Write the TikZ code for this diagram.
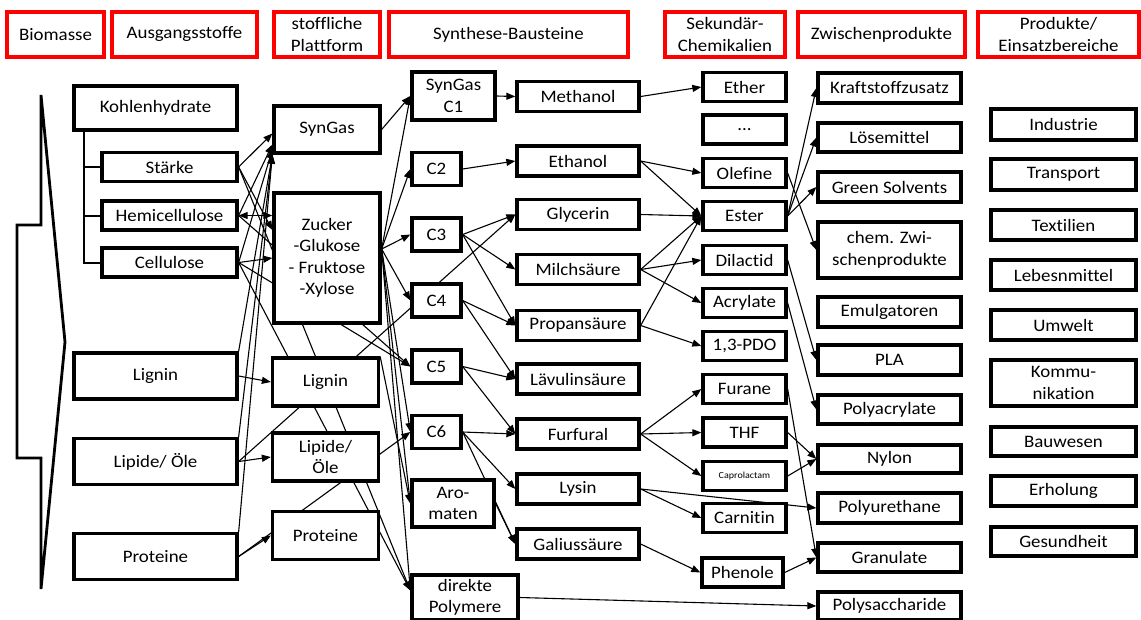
\documentclass[tikz,border=0pt]{standalone}
\usepackage{fontspec}
\setmainfont{Carlito}[FakeStretch=1.08, Ligatures=NoCommon]
\usetikzlibrary{arrows.meta}
\pgfdeclarelayer{background}
\pgfsetlayers{background,main}

\begin{document}
\begin{tikzpicture}[x=1pt, y=-1pt,
		font=\fontsize{17.5}{21.5}\selectfont,
		box/.style={draw, line width=3.3pt, fill=white, align=center, inner sep=0pt},
		headbox/.style={draw=red, line width=3.3pt, fill=white, align=center, inner sep=0pt, minimum height=45pt},
		link/.style={line width=1.1pt, -{Triangle[length=9pt,width=7pt]}},
		twolink/.style={line width=1.1pt, {Triangle[length=9pt,width=7pt]}-{Triangle[length=9pt,width=7pt]}},
		tree/.style={line width=2pt}]
		\useasboundingbox (0,0) rectangle (1141,619);
		
		% Draw the column headers
		\foreach \nm/\xx/\ww/\txt in {hbio/55.5/97/Biomasse, haus/184.5/145/Ausgangsstoffe, hpla/327/106/{stoffliche\\Plattform}, hsyn/508.5/239/Synthese-Bausteine, hsek/725/120/{Sekundär-\\Chemikalien}, hzwi/881.5/167/Zwischenprodukte, hpro/1058.5/161/{Produkte/\\Einsatzbereiche}} {
			\node[headbox, minimum width=\ww*1pt] (\nm) at (\xx,34.5) {\txt};
		}
		
		% Draw the biomass arrow
		\draw[line width=2.8pt] (41,95) -- (65,342) -- (41,589) -- (41,458) -- (17,458) -- (17,225) -- (41,225) -- cycle;
		
		% Ausgangsstoffe
		\node[box, minimum width=163pt, minimum height=44pt] (kohle) at (155.5,108) {Kohlenhydrate};
		\foreach \nm/\yy/\txt in {staerke/167/Stärke, hemi/215.5/Hemicellulose, cellu/262.5/Cellulose} {
			\node[box, minimum width=135pt, minimum height=29pt] (\nm) at (169.5,\yy) {\txt};
		}
		\foreach \nm/\yy/\txt in {lignA/376/Lignin, lipA/461.5/{Lipide/ Öle}, protA/556.5/Proteine} {
			\node[box, minimum width=163pt, minimum height=46pt] (\nm) at (155.5,\yy) {\txt};
		}
		
		% stoffliche Plattform
		\node[box, minimum width=106pt, minimum height=47pt] (syngas) at (327,129.5) {SynGas};
		\node[box, minimum width=106pt, minimum height=130pt] (zucker) at (327,258) {Zucker\\-Glukose\\- Fruktose\\-Xylose};
		\foreach \nm/\yy/\txt in {lignB/382/Lignin, lipB/457/{Lipide/\\Öle}, protB/535.5/Proteine} {
			\node[box, minimum width=106pt, minimum height=48pt] (\nm) at (325.5,\yy) {\txt};
		}
		
		% Synthese-Bausteine
		\node[box, minimum width=83pt, minimum height=48pt] (cone) at (453.5,96) {SynGas\\C1};
		\foreach \nm/\yy/\txt in {ctwo/169/C2, cthree/234.5/C3, cfour/300.5/C4, cfive/366.5/C5, csix/432/C6} {
			\node[box, minimum width=49pt, minimum height=33pt] (\nm) at (436.5,\yy) {\txt};
		}
		\node[box, minimum width=82pt, minimum height=47pt] (arom) at (453,503.5) {Aro-\\maten};
		\node[box, minimum width=106pt, minimum height=45pt] (dpoly) at (465,597.5) {direkte\\Polymere};
		\foreach \nm/\yy/\txt in {meth/96.5/Methanol, ethan/161/Ethanol, glyc/214.5/Glycerin, milch/269.5/Milchsäure, propan/325.5/Propansäure, laevu/379/Lävulinsäure, furf/434/Furfural, lysin/489/Lysin, galli/544/Galiussäure} {
			\node[box, minimum width=122pt, minimum height=30pt] (\nm) at (578,\yy) {\txt};
		}
		
		% Sekundaer-Chemikalien
		\node[box, minimum width=83pt, minimum height=29pt] (dots) at (744.5,129.5) {...};
		\foreach \nm/\yy/\txt in {ether/87/Ether, olef/173/Olefine, ester/216/Ester, dilac/260/Dilactid, acryl/303/Acrylate, pdo/346/{1,3-PDO}, furan/389/Furane, thf/432.5/THF, capro/476/{\fontsize{9.3}{11}\selectfont Caprolactam}, carni/518/Carnitin} {
			\node[box, minimum width=83pt, minimum height=29pt] (\nm) at (744.5,\yy) {\txt};
		}
		\node[box, minimum width=81pt, minimum height=29pt] (phen) at (742.5,572.5) {Phenole};
		
		% Zwischenprodukte
		\foreach \nm/\yy/\hh/\txt in {kraft/88/30/Kraftstoffzusatz, loese/137.5/29/Lösemittel, green/187/30/Green Solvents, chemz/250/56/{chem. Zwi-\\schenprodukte}, emulg/312/30/Emulgatoren, pla/360/30/PLA, polyac/409.5/29/Polyacrylate, nylon/459/28/Nylon, polyur/508/30/Polyurethane, granu/557.5/29/Granulate, polysa/606/28/Polysaccharide} {
			\node[box, minimum width=143pt, minimum height=\hh*1pt] (\nm) at (889.5,\yy) {\txt};
		}
		
		% Produkte/Einsatzbereiche
		\foreach \nm/\yy/\hh/\txt in {ind/124.5/31/Industrie, trans/174.5/31/Transport, textil/225/30/Textilien, lebe/275/30/Lebesnmittel, umw/325/30/Umwelt, komm/383/46/{Kommu-\\nikation}, bau/441.5/29/Bauwesen, erh/491/30/Erholung, ges/541.5/29/Gesundheit} {
			\node[box, minimum width=145pt, minimum height=\hh*1pt] (\nm) at (1063.5,\yy) {\txt};
		}
		
		% Connector end points
		\coordinate (tr) at (84,130);
		\coordinate (synA) at ([yshift=-4pt]syngas.west);
		\coordinate (synB) at ([yshift=-15pt]syngas.west);
		\coordinate (synC) at ([yshift=-20pt]syngas.west);
		\coordinate (zucA) at ([yshift=28pt]zucker.west);
		\coordinate (zout) at ([yshift=9pt]zucker.east);
		\coordinate (dpin) at ([yshift=7pt]dpoly.west);
		
		\begin{pgfonlayer}{background}
			% Kohlenhydrate tree
			\draw[tree] (tr) |- (cellu.west);
			\draw[tree] (staerke.west) -- (staerke.west -| tr);
			\draw[tree] (hemi.west) -- (hemi.west -| tr);
			
			% Ausgangsstoffe to Plattform
			\foreach \a/\b in {staerke.east/synA, hemi.east/synB, cellu.east/synC, lignA.north east/syngas.south west, lipA.north east/syngas.south west, protA.north east/syngas.south west, staerke.east/zucA, cellu.east/zucker.west, hemi.east/cfive.west, cellu.east/cfive.west, staerke.east/dpin, cellu.east/dpin, lignA.east/lignB.west, lipA.east/lipB.west, lipA.east/glyc.west, protA.east/protB.west, protA.east/csix.west} {
				\draw[link] (\a) -- (\b);
			}
			\draw[twolink] (hemi.east) -- (hemi.east -| zucker.west);
			
			% Plattform to Synthese-Bausteine
			\foreach \a/\b in {syngas.east/cone.west, zout/cone.west, zout/ctwo.west, zout/cthree.west, zout/cfour.west, zout/csix.west, zout/arom.west, zout/dpin, lignB.north east/arom.west} {
				\draw[link] (\a) -- (\b);
			}
			
			% Synthese-Bausteine
			\foreach \a/\b in {cone.east/meth.west, ctwo.east/ethan.west, cthree.east/glyc.west, cthree.east/milch.west, cthree.east/propan.west, cfour.east/propan.west, cfour.east/laevu.west, cfive.east/laevu.west, cfive.east/furf.west, csix.east/furf.west, csix.east/lysin.west, csix.east/galli.west, arom.east/galli.west, dpoly.east/polysa.west} {
				\draw[link] (\a) -- (\b);
			}
			
			% Sekundaer-Chemikalien
			\foreach \a/\b in {meth.east/ether.west, ethan.east/olef.west, ethan.east/ester.west, glyc.east/ester.west, milch.east/ester.west, milch.east/dilac.west, milch.east/acryl.west, propan.east/ester.west, propan.east/pdo.west, furf.east/furan.west, furf.east/thf.west, furf.east/capro.west, lysin.east/carni.west, lysin.east/polyur.west, galli.east/phen.west} {
				\draw[link] (\a) -- (\b);
			}
			
			% Zwischenprodukte
			\foreach \a/\b in {ester.east/kraft.west, ester.east/loese.west, ester.east/green.west, olef.east/chemz.west, dilac.east/pla.west, acryl.east/polyac.west, thf.east/nylon.west, capro.east/nylon.west, furan.east/granu.west, phen.east/granu.west} {
				\draw[link] (\a) -- (\b);
			}
		\end{pgfonlayer}
	\end{tikzpicture}
\end{document}
